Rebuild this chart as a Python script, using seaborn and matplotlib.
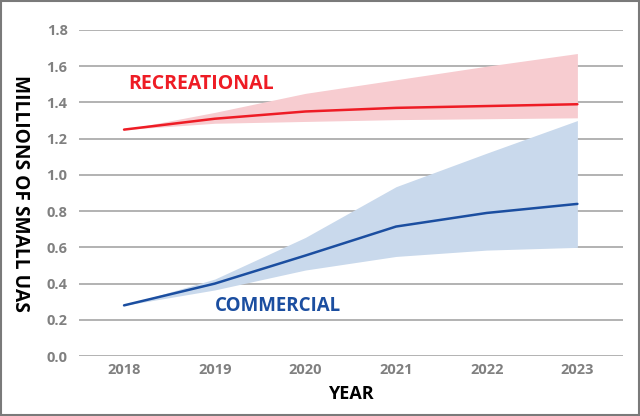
import numpy as np
import pandas as pd
import seaborn as sns
import matplotlib.pyplot as plt
from matplotlib.patches import Rectangle

years = [2018, 2019, 2020, 2021, 2022, 2023]

rec_mid = [1.25, 1.31, 1.35, 1.37, 1.38, 1.39]
rec_low = [1.25, 1.285, 1.295, 1.305, 1.31, 1.315]
rec_high = [1.25, 1.345, 1.45, 1.525, 1.60, 1.67]

com_mid = [0.28, 0.40, 0.555, 0.715, 0.79, 0.84]
com_low = [0.28, 0.365, 0.475, 0.55, 0.585, 0.60]
com_high = [0.28, 0.425, 0.655, 0.935, 1.12, 1.30]

df = pd.DataFrame({
    'Year': years * 2,
    'Value': rec_mid + com_mid,
    'Type': ['Recreational'] * 6 + ['Commercial'] * 6,
})

red = '#ee1c25'
blue = '#1b4ea0'
gray = '#808080'

sns.set_style('white')
plt.rcParams['font.family'] = ['Open Sans', 'DejaVu Sans']

fig = plt.figure(figsize=(6.4, 4.16), dpi=100)
ax = fig.add_axes([0.123, 0.144, 0.85, 0.784])

for y in np.arange(0, 1.81, 0.2):
    ax.axhline(y, color='#a6a6a6', lw=1.2, zorder=0)

ax.fill_between(years, rec_low, rec_high, color='#f7ccd0', lw=0, zorder=1)
ax.fill_between(years, com_low, com_high, color='#c9d9ec', lw=0, zorder=1)

sns.lineplot(data=df, x='Year', y='Value', hue='Type',
             palette={'Recreational': red, 'Commercial': blue},
             linewidth=1.8, legend=False, ax=ax, zorder=3)

ax.set_xlim(2017.5, 2023.5)
ax.set_ylim(0, 1.8)
ax.set_yticks(np.arange(0, 1.81, 0.2))
ax.set_yticklabels([f'{v:.1f}' for v in np.arange(0, 1.81, 0.2)])
ax.set_xticks(years)
ax.tick_params(axis='y', length=0, pad=8, labelsize=10.5, labelcolor=gray)
ax.tick_params(axis='x', length=0, pad=5, labelsize=10.5, labelcolor=gray)
for lbl in ax.get_xticklabels() + ax.get_yticklabels():
    lbl.set_fontweight('bold')
sns.despine(ax=ax, left=True, bottom=True)

ax.set_xlabel('YEAR', fontsize=13, fontweight='bold', color='black', labelpad=6)
ax.set_ylabel('MILLIONS OF SMALL UAS', fontsize=13.8, fontweight='bold',
              color='black', rotation=270, labelpad=18)
ax.yaxis.set_label_coords(-0.127, 0.5)

ax.text(2018.05, 1.5, 'RECREATIONAL', color=red, fontsize=14, fontweight='bold',
        va='center', ha='left')
ax.text(2019.0, 0.275, 'COMMERCIAL', color=blue, fontsize=13.5, fontweight='bold',
        va='center', ha='left')

fig.patches.append(Rectangle((0.002, 0.003), 0.996, 0.994, transform=fig.transFigure,
                             fill=False, edgecolor='#7a7a7a', lw=1.5))

fig.savefig('out.png', dpi=100)
